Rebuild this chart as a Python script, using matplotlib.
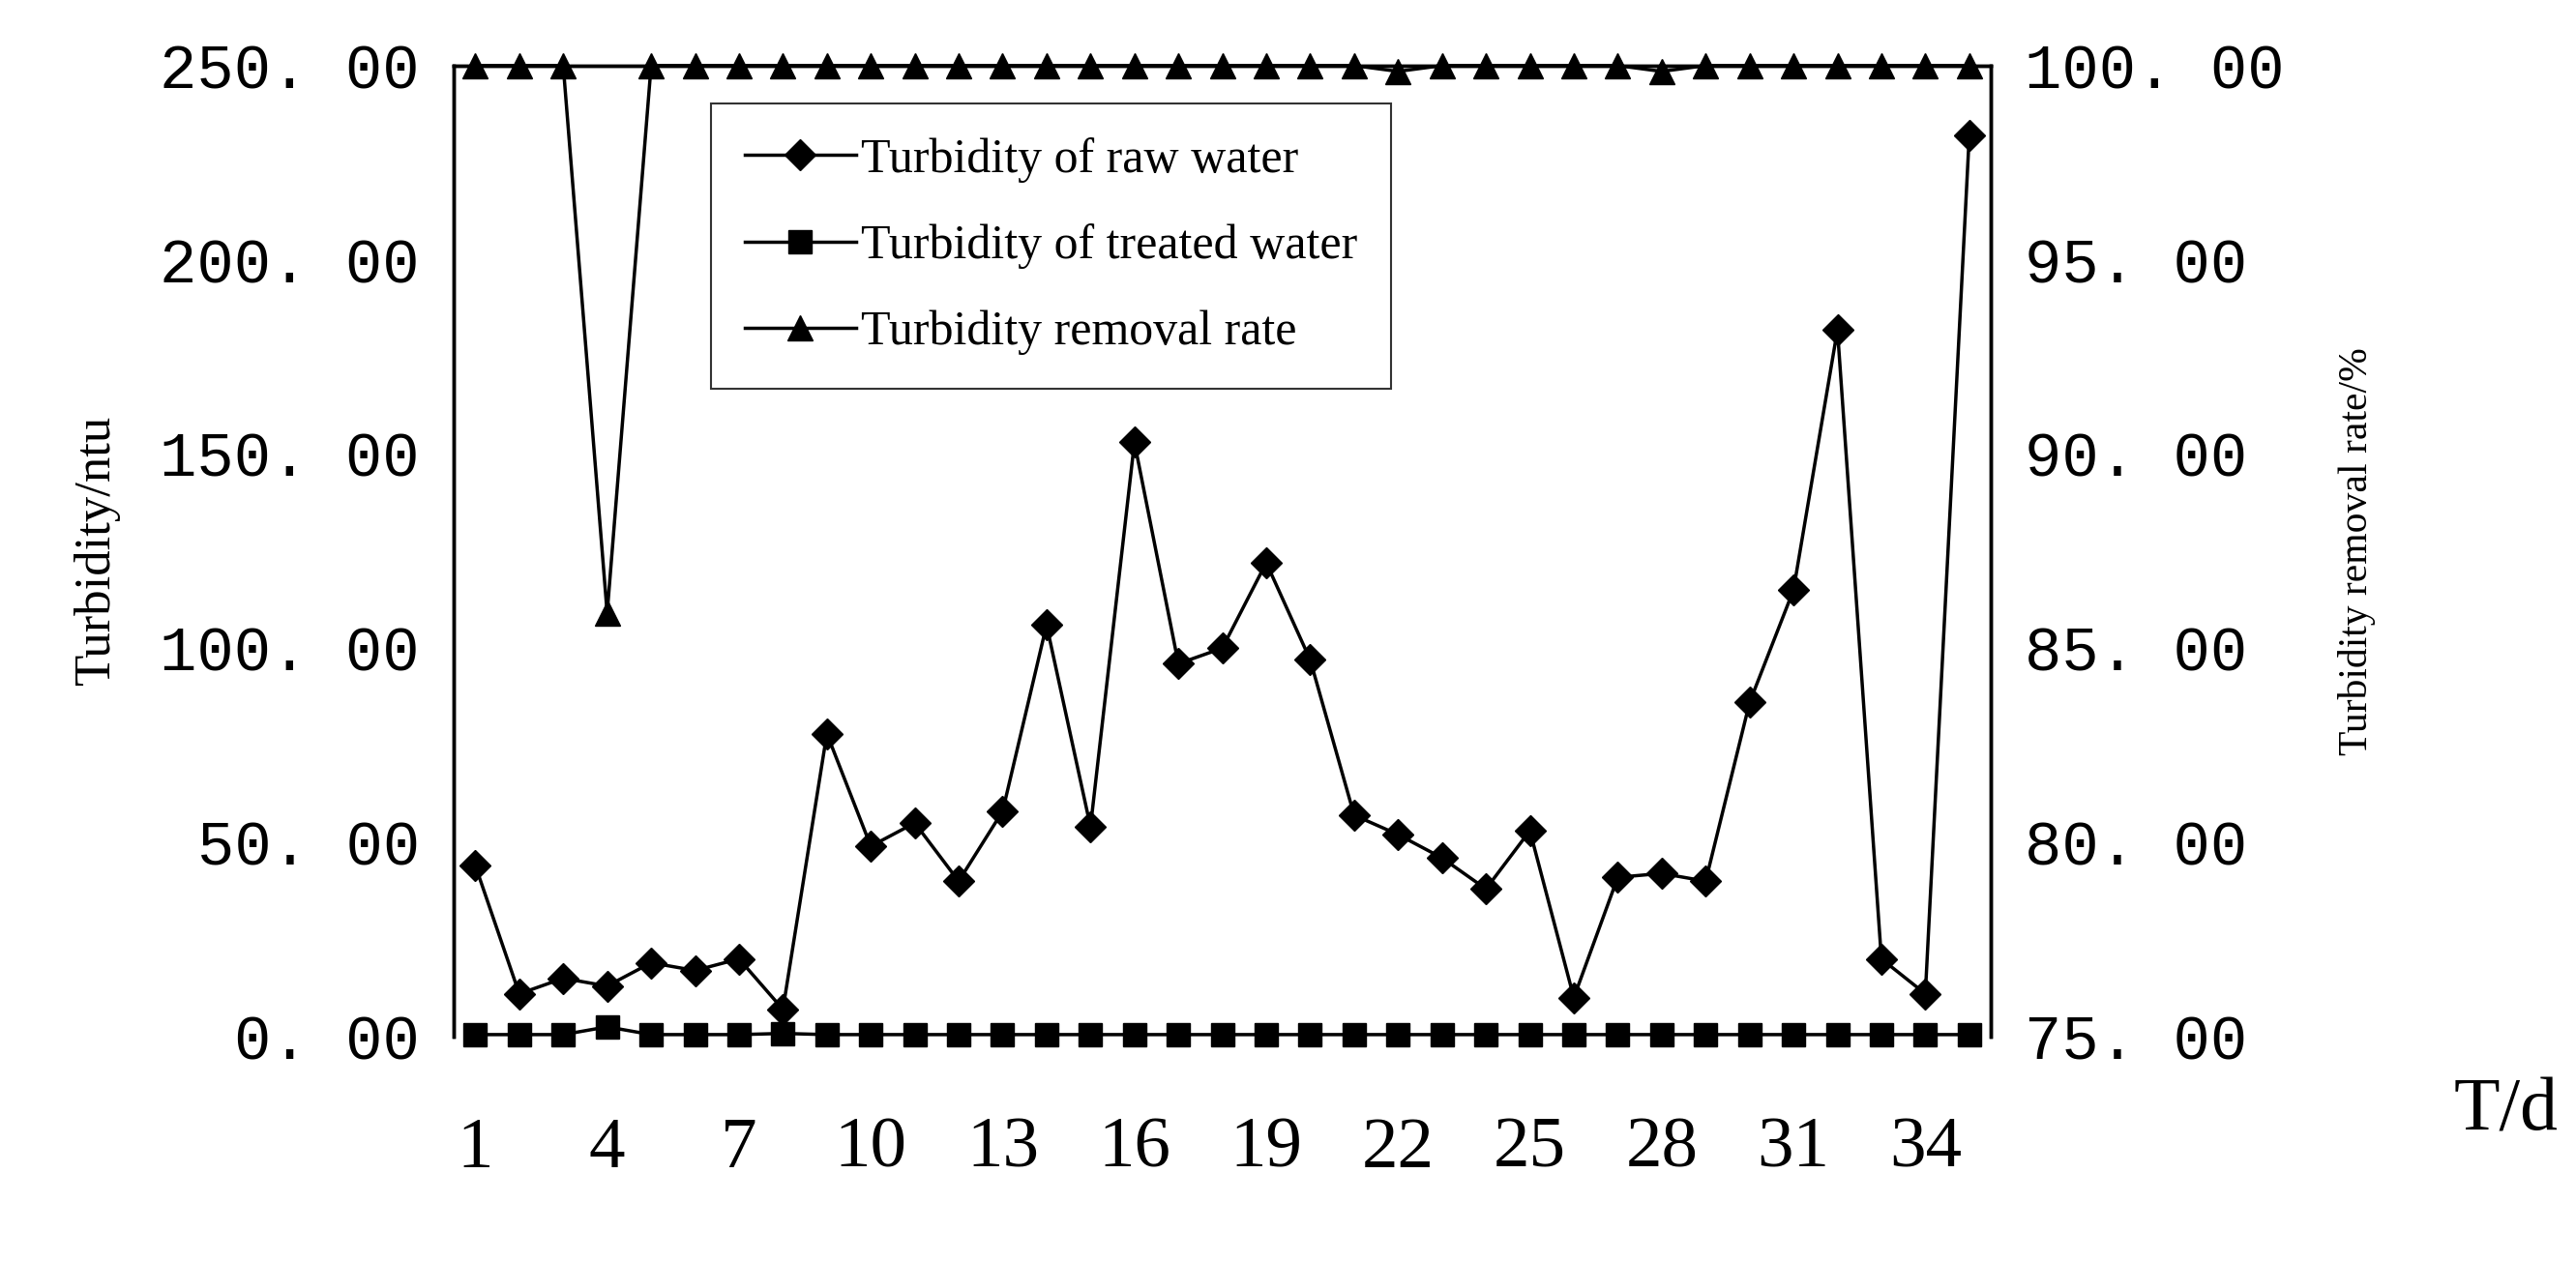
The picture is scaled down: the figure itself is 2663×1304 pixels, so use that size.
import matplotlib
matplotlib.use("Agg")
import matplotlib.pyplot as plt

days = list(range(1, 36))
raw = [44, 11, 15, 13, 19, 17, 20, 7, 78, 49, 55, 40, 58, 106, 54, 153, 96, 100, 122, 97,
       57, 52, 46, 38, 53, 10, 41, 42, 40, 86, 115, 182, 20, 11, 232]
treated = [0.5, 0.5, 0.5, 2.5, 0.5, 0.5, 0.5, 0.8, 0.5, 0.5, 0.5, 0.5, 0.5, 0.5, 0.5, 0.5, 0.5, 0.5,
           0.5, 0.5, 0.5, 0.5, 0.5, 0.5, 0.5, 0.5, 0.5, 0.5, 0.5, 0.5, 0.5, 0.5, 0.5, 0.5, 0.5]
removal = [100, 100, 100, 85.9, 100, 100, 100, 100, 100, 100, 100, 100, 100, 100, 100, 100, 100, 100,
           100, 100, 100, 99.85, 100, 100, 100, 100, 100, 99.85, 100, 100, 100, 100, 100, 100, 100]
xticks = [1, 4, 7, 10, 13, 16, 19, 22, 25, 28, 31, 34]
left_ticks = [0, 50, 100, 150, 200, 250]
right_ticks = [75, 80, 85, 90, 95, 100]

plt.rcParams['font.family'] = ['Liberation Serif', 'DejaVu Serif']
fig = plt.figure(figsize=(26.63, 13.04), dpi=100)
ax = fig.add_axes([0.176, 0.178, 0.597, 0.77])
ax2 = ax.twinx()
kw = dict(color='black', lw=2.5, clip_on=False)
l1, = ax.plot(days, raw, marker='D', ms=16, label='Turbidity of raw water', **kw)
l2, = ax.plot(days, treated, marker='s', ms=17, label='Turbidity of treated water', **kw)
l3, = ax2.plot(days, removal, marker='^', ms=19, label='Turbidity removal rate', **kw)
ax.set_xlim(0.5, 35.5)
ax.set_ylim(0, 250)
ax2.set_ylim(75, 100)
ax.set_yticks(left_ticks)
ax.set_yticklabels([f"{v:.2f}".replace('.', '. ') for v in left_ticks])
ax2.set_yticks(right_ticks)
ax2.set_yticklabels([f"{v:.2f}".replace('.', '. ') for v in right_ticks])
ax.set_xticks(xticks)
mono = ['Liberation Mono', 'DejaVu Sans Mono']
for a in (ax, ax2):
    for t in a.get_yticklabels():
        t.set_family(mono)
ax.tick_params(axis='y', labelsize=46, length=0, pad=25)
ax2.tick_params(axis='y', labelsize=46, length=0, pad=25)
ax.tick_params(axis='x', labelsize=54, length=0, pad=60)
for a in (ax, ax2):
    a.spines['bottom'].set_visible(False)
    for s in ('top', 'left', 'right'):
        a.spines[s].set_linewidth(2.5)
ax.set_ylabel('Turbidity/ntu', fontsize=38, labelpad=30)
ax2.set_ylabel('Turbidity removal rate/%', fontsize=30, labelpad=40)
fig.text(0.993, 0.118, 'T/d', fontsize=56, ha='right', va='center')
leg = fig.legend(handles=[l1, l2, l3], loc='upper left', bbox_to_anchor=(0.276, 0.918),
                 fontsize=36, frameon=True, fancybox=False, edgecolor='black',
                 handlelength=2.3, handletextpad=0.1, labelspacing=0.85, borderpad=0.7,
                 borderaxespad=0)
leg.get_frame().set_linewidth(1.5)
fig.savefig('out.png', dpi=100)
